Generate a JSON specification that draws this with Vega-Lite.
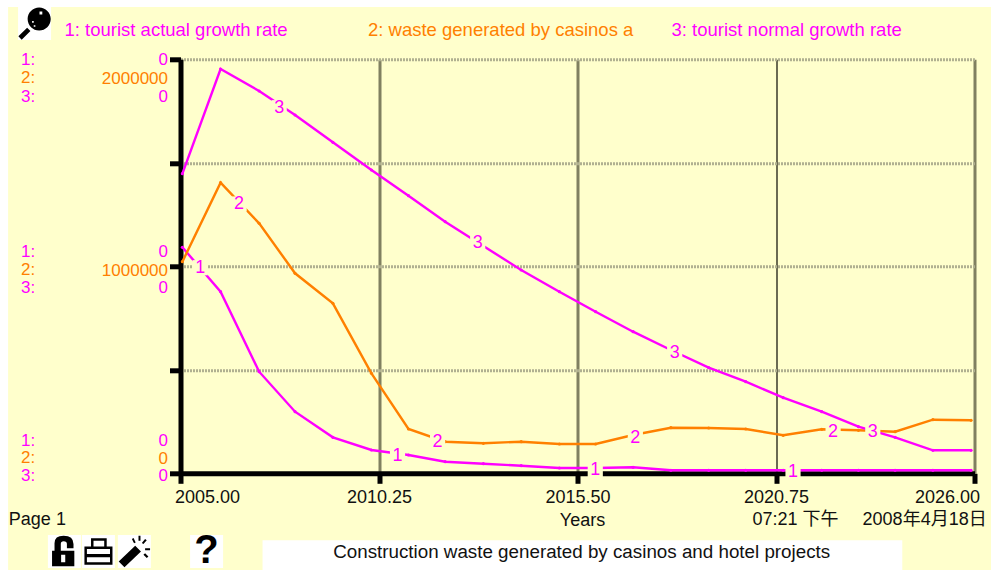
{
"$schema":"https://vega.github.io/schema/vega-lite/v6.json",
"width":794,"height":414,
"autosize":{"type":"none"},
"padding":{"left":180.5,"top":59.3,"right":16.5,"bottom":96.7},
"background":"#FFFFCC",
"config":{"view":{"stroke":null},"text":{"font":"Liberation Sans"},"axis":{"labelFont":"Liberation Sans","titleFont":"Liberation Sans"}},
"datasets":{
"series":[
{"series":"1: tourist actual  growth rate","year":2005.05,"value":1091783},{"series":"1: tourist actual  growth rate","year":2006.06,"value":877291},{"series":"1: tourist actual  growth rate","year":2007.08,"value":490819},{"series":"1: tourist actual  growth rate","year":2008.03,"value":297583},{"series":"1: tourist actual  growth rate","year":2009.03,"value":173912},{"series":"1: tourist actual  growth rate","year":2010.05,"value":112560},{"series":"1: tourist actual  growth rate","year":2011.03,"value":88405},{"series":"1: tourist actual  growth rate","year":2012.0,"value":56038},{"series":"1: tourist actual  growth rate","year":2013.01,"value":46377},{"series":"1: tourist actual  growth rate","year":2014.01,"value":36715},{"series":"1: tourist actual  growth rate","year":2015.02,"value":25604},{"series":"1: tourist actual  growth rate","year":2015.98,"value":25604},{"series":"1: tourist actual  growth rate","year":2016.97,"value":28985},{"series":"1: tourist actual  growth rate","year":2017.97,"value":14493},{"series":"1: tourist actual  growth rate","year":2018.97,"value":14493},{"series":"1: tourist actual  growth rate","year":2019.95,"value":14493},{"series":"1: tourist actual  growth rate","year":2020.94,"value":14493},{"series":"1: tourist actual  growth rate","year":2021.96,"value":14493},{"series":"1: tourist actual  growth rate","year":2022.93,"value":14493},{"series":"1: tourist actual  growth rate","year":2023.9,"value":14493},{"series":"1: tourist actual  growth rate","year":2024.9,"value":14493},{"series":"1: tourist actual  growth rate","year":2025.91,"value":14493},
{"series":"2: waste generated by  casinos a","year":2005.05,"value":1022219},{"series":"2: waste generated by  casinos a","year":2006.06,"value":1403860},{"series":"2: waste generated by  casinos a","year":2007.08,"value":1207725},{"series":"2: waste generated by  casinos a","year":2008.03,"value":966180},{"series":"2: waste generated by  casinos a","year":2009.03,"value":821253},{"series":"2: waste generated by  casinos a","year":2010.05,"value":483090},{"series":"2: waste generated by  casinos a","year":2011.03,"value":214009},{"series":"2: waste generated by  casinos a","year":2012.0,"value":152656},{"series":"2: waste generated by  casinos a","year":2013.01,"value":144927},{"series":"2: waste generated by  casinos a","year":2014.01,"value":152656},{"series":"2: waste generated by  casinos a","year":2015.02,"value":141545},{"series":"2: waste generated by  casinos a","year":2015.98,"value":141545},{"series":"2: waste generated by  casinos a","year":2016.97,"value":185023},{"series":"2: waste generated by  casinos a","year":2017.97,"value":220289},{"series":"2: waste generated by  casinos a","year":2018.97,"value":218840},{"series":"2: waste generated by  casinos a","year":2019.95,"value":214009},{"series":"2: waste generated by  casinos a","year":2020.94,"value":183574},{"series":"2: waste generated by  casinos a","year":2021.96,"value":212560},{"series":"2: waste generated by  casinos a","year":2022.93,"value":207729},{"series":"2: waste generated by  casinos a","year":2023.9,"value":200965},{"series":"2: waste generated by  casinos a","year":2024.9,"value":258936},{"series":"2: waste generated by  casinos a","year":2025.91,"value":256038},
{"series":"3: tourist normal  growth rate","year":2005.05,"value":1447338},{"series":"3: tourist normal  growth rate","year":2006.06,"value":1953133},{"series":"3: tourist normal  growth rate","year":2007.08,"value":1846853},{"series":"3: tourist normal  growth rate","year":2008.03,"value":1730911},{"series":"3: tourist normal  growth rate","year":2009.03,"value":1599028},{"series":"3: tourist normal  growth rate","year":2010.05,"value":1465212},{"series":"3: tourist normal  growth rate","year":2011.03,"value":1341058},{"series":"3: tourist normal  growth rate","year":2012.0,"value":1215454},{"series":"3: tourist normal  growth rate","year":2013.01,"value":1098064},{"series":"3: tourist normal  growth rate","year":2014.01,"value":982122},{"series":"3: tourist normal  growth rate","year":2015.02,"value":877291},{"series":"3: tourist normal  growth rate","year":2015.98,"value":780673},{"series":"3: tourist normal  growth rate","year":2016.97,"value":684055},{"series":"3: tourist normal  growth rate","year":2017.97,"value":595650},{"series":"3: tourist normal  growth rate","year":2018.97,"value":510143},{"series":"3: tourist normal  growth rate","year":2019.95,"value":442510},{"series":"3: tourist normal  growth rate","year":2020.94,"value":365216},{"series":"3: tourist normal  growth rate","year":2021.96,"value":297583},{"series":"3: tourist normal  growth rate","year":2022.93,"value":225120},{"series":"3: tourist normal  growth rate","year":2023.9,"value":173912},{"series":"3: tourist normal  growth rate","year":2024.9,"value":111111},{"series":"3: tourist normal  growth rate","year":2025.91,"value":111111}
],
"lineLabels":[
{"text":"1","year":2005.52,"value":993233},{"text":"1","year":2010.74,"value":83575},{"text":"1","year":2015.97,"value":15942},{"text":"1","year":2021.2,"value":7729},
{"text":"2","year":2006.55,"value":1300961},{"text":"2","year":2011.8,"value":152656},{"text":"2","year":2017.03,"value":169082},{"text":"2","year":2022.26,"value":200965},
{"text":"3","year":2007.61,"value":1766177},{"text":"3","year":2012.86,"value":1111107},{"text":"3","year":2018.07,"value":579708},{"text":"3","year":2023.31,"value":200965}
],
"scaleLeft":[
{"text":"1:","year":2000.78,"value":1996611,"series":"1: tourist actual  growth rate"},{"text":"2:","year":2000.78,"value":1909655,"series":"2: waste generated by  casinos a"},{"text":"3:","year":2000.78,"value":1819317,"series":"3: tourist normal  growth rate"},
{"text":"1:","year":2000.78,"value":1069078,"series":"1: tourist actual  growth rate"},{"text":"2:","year":2000.78,"value":982122,"series":"2: waste generated by  casinos a"},{"text":"3:","year":2000.78,"value":895166,"series":"3: tourist normal  growth rate"},
{"text":"1:","year":2000.78,"value":157487,"series":"1: tourist actual  growth rate"},{"text":"2:","year":2000.78,"value":72464,"series":"2: waste generated by  casinos a"},{"text":"3:","year":2000.78,"value":-14493,"series":"3: tourist normal  growth rate"}
],
"scaleRight":[
{"text":"0","year":2004.67,"value":1996611},{"text":"0","year":2004.67,"value":1819317},
{"text":"0","year":2004.67,"value":1069078},{"text":"0","year":2004.67,"value":895166},
{"text":"0","year":2004.67,"value":157487},{"text":"0","year":2004.67,"value":-14493}
],
"footLeft":[
{"text":"Page 1","year":2000.46,"value":-225000},
{"text":"07:21 下午","year":2020.13,"value":-225000},
{"text":"2008年4月18日","year":2023.04,"value":-225000}
],
"icons":[{"year":2001.14,"value":2172939},{"year":2001.93,"value":-377776},{"year":2002.83,"value":-377776},{"year":2003.78,"value":-377776},{"year":2005.69,"value":-377776}],
"strips":[
{"year":2000.2,"year2":2026.5,"value":2252634,"value2":2290000},
{"year":2000.2,"year2":2000.44,"value":2290000,"value2":-480000},
{"year":2007.17,"year2":2024.09,"value":-323000,"value2":-480000}
]
},
"layer":[
{"data":{"name":"strips"},"mark":{"type":"rect","fill":"#FFFFFF"},
 "encoding":{"x":{"field":"year","type":"quantitative","scale":{"domain":[2005,2026],"nice":false,"zero":false},
   "axis":{"title":"Years","titleFontSize":18,"titleFontWeight":"normal","titleColor":"#111111","titleX":401.5,"titleY":46.7,"titleBaseline":"middle","titleAlign":"center",
     "values":[2005,2010.25,2015.5,2020.75,2026],"format":".2f","labelFontSize":18,"labelColor":"#111111","labelFlush":true,"labelPadding":5,"labelBound":false,
     "labelOffset":{"condition":[{"test":"datum.value==2005","value":-6},{"test":"datum.value==2026","value":5}],"value":0},
     "domainColor":"#000000","domainWidth":5,"tickColor":"#000000","tickWidth":5,"tickSize":10,
     "grid":true,"gridColor":{"condition":{"test":"datum.value==2020.75","value":"#3A3A2A"},"value":"#808060"},"gridWidth":{"condition":{"test":"datum.value==2020.75","value":1.5},"value":3},"gridOpacity":1}},
  "x2":{"field":"year2"},
  "y":{"field":"value","type":"quantitative","scale":{"domain":[0,2000000],"nice":false,"zero":false},
   "axis":{"title":null,"values":[0,500000,1000000,1500000,2000000],"labelExpr":"datum.value % 1000000 == 0 ? format(datum.value,'d') : ''","labelFontSize":17,"labelColor":"#FF8000","labelPadding":2,"labelBound":false,
     "labelOffset":{"condition":[{"test":"datum.value==2000000","value":19},{"test":"datum.value==1000000","value":4}],"value":-15},
     "domainColor":"#000000","domainWidth":5,"tickColor":"#000000","tickWidth":5,"tickSize":11,
     "grid":true,"gridColor":"#B0B090","gridWidth":3,"gridDash":[2,1],"gridOpacity":1}},
  "y2":{"field":"value2"}}},
{"data":{"name":"series"},"mark":{"type":"line","strokeWidth":2.4,"point":{"filled":true,"size":10}},
 "encoding":{"x":{"field":"year","type":"quantitative"},"y":{"field":"value","type":"quantitative"},
  "color":{"field":"series","type":"nominal","scale":{"domain":["1: tourist actual  growth rate","2: waste generated by  casinos a","3: tourist normal  growth rate"],"range":["#FF00FF","#FF8000","#FF00FF"]},
   "legend":{"title":null,"orient":"none","legendX":-134.5,"legendY":-39,"direction":"horizontal","columns":3,"gridAlign":"all","columnPadding":14.5,"symbolSize":0,"symbolOpacity":0,"symbolStrokeWidth":0,"labelOffset":0,"labelFontSize":18.5,"labelFont":"Liberation Sans","labelLimit":400,
    "labelColor":{"expr":"scale('color', datum.value)"}}}}},
{"data":{"name":"lineLabels"},"mark":{"type":"square","size":230,"fill":"#FFFFCC","opacity":1},
 "encoding":{"x":{"field":"year","type":"quantitative"},"y":{"field":"value","type":"quantitative"}}},
{"data":{"name":"lineLabels"},"mark":{"type":"text","fontSize":18,"fill":"#FF00FF","align":"center","baseline":"middle"},
 "encoding":{"x":{"field":"year","type":"quantitative"},"y":{"field":"value","type":"quantitative"},"text":{"field":"text"}}},
{"data":{"name":"scaleLeft"},"mark":{"type":"text","fontSize":17,"align":"left","baseline":"middle"},
 "encoding":{"x":{"field":"year","type":"quantitative"},"y":{"field":"value","type":"quantitative"},"text":{"field":"text"},"color":{"field":"series","type":"nominal","legend":null}}},
{"data":{"name":"scaleRight"},"mark":{"type":"text","fontSize":17,"align":"right","baseline":"middle","fill":"#FF00FF"},
 "encoding":{"x":{"field":"year","type":"quantitative"},"y":{"field":"value","type":"quantitative"},"text":{"field":"text"}}},
{"data":{"name":"footLeft"},"mark":{"type":"text","fontSize":18,"align":"left","baseline":"middle","fill":"#111111","font":"Liberation Sans, Noto Sans CJK TC"},
 "encoding":{"x":{"field":"year","type":"quantitative"},"y":{"field":"value","type":"quantitative"},"text":{"field":"text"}}},
{"data":{"values":[{"text":"Construction waste generated by  casinos and hotel projects","year":2015.61,"value":-380000}]},"mark":{"type":"text","fontSize":18.8,"align":"center","baseline":"middle","fill":"#111111"},
 "encoding":{"x":{"field":"year","type":"quantitative"},"y":{"field":"value","type":"quantitative"},"text":{"field":"text"}}},
{"data":{"name":"icons"},"mark":{"type":"square","size":1089,"fill":"#FFFFFF","opacity":1},
 "encoding":{"x":{"field":"year","type":"quantitative"},"y":{"field":"value","type":"quantitative"}}},
{"data":{"values":[{"year":2001.14,"value":2172939}]},"mark":{"type":"point","filled":true,"fill":"#000000","opacity":1,"size":1089,"shape":"M-0.42 -0.27A0.7 0.7 0 1 1 0.98 -0.27A0.7 0.7 0 1 1 -0.42 -0.27ZM0.3 -0.72V-0.55H0.47V-0.72ZM-0.15 -0.15V-0.05H-0.05V-0.15ZM-0.05 0.1V0.2H0.05V0.1ZM-0.45 0.25L-0.25 0.45L-0.78 0.98L-0.98 0.78Z"},
 "encoding":{"x":{"field":"year","type":"quantitative"},"y":{"field":"value","type":"quantitative"}}},
{"data":{"values":[{"year":2001.93,"value":-377776}]},"mark":{"type":"point","filled":true,"fill":"#000000","opacity":1,"size":1089,"shape":"M-0.75 -0.05H0.6V0.9H-0.75ZM-0.2 0.2V0.65H0.05V0.2ZM-0.6 -0.05V-0.5Q-0.6 -0.95 -0.05 -0.95Q0.55 -0.95 0.55 -0.45V-0.2H0.15V-0.45Q0.15 -0.62 -0.05 -0.62Q-0.22 -0.62 -0.22 -0.45V-0.05Z"},
 "encoding":{"x":{"field":"year","type":"quantitative"},"y":{"field":"value","type":"quantitative"}}},
{"data":{"values":[{"year":2002.83,"value":-377776}]},"mark":{"type":"point","filled":true,"fill":"#000000","opacity":1,"size":1089,"shape":"M-0.85 -0.3H-0.45V-0.8H0.5V-0.3H0.85V0.8H-0.85ZM-0.3 -0.3H0.35V-0.65H-0.3ZM-0.7 -0.15V0.15H0.7V-0.15ZM-0.7 0.35V0.65H0.7V0.35Z"},
 "encoding":{"x":{"field":"year","type":"quantitative"},"y":{"field":"value","type":"quantitative"}}},
{"data":{"values":[{"year":2003.78,"value":-377776}]},"mark":{"type":"point","filled":true,"fill":"#000000","opacity":1,"size":1089,"shape":"M-0.95 0.6L0.05 -0.35L0.4 0L-0.6 0.95ZM0.25 -0.95H0.37V-0.65H0.25ZM-0.15 -0.75L-0.05 -0.82L0.08 -0.55L-0.02 -0.5ZM0.65 -0.75L0.75 -0.68L0.55 -0.45L0.45 -0.52ZM0.65 -0.2H0.95V-0.08H0.65ZM0.55 0.2L0.65 0.1L0.85 0.3L0.75 0.4Z"},
 "encoding":{"x":{"field":"year","type":"quantitative"},"y":{"field":"value","type":"quantitative"}}},
{"data":{"values":[{"text":"?","year":2005.69,"value":-377776}]},"mark":{"type":"text","fontSize":40,"fontWeight":"bold","align":"center","baseline":"middle","fill":"#000000"},
 "encoding":{"x":{"field":"year","type":"quantitative"},"y":{"field":"value","type":"quantitative"},"text":{"field":"text"}}}
]
}
